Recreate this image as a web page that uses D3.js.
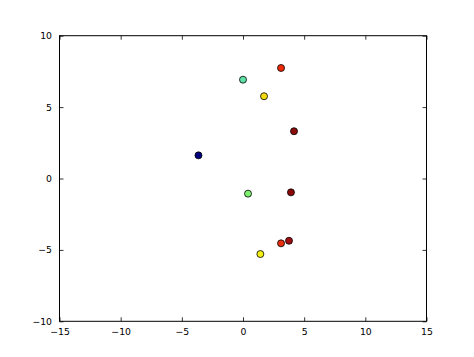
<!DOCTYPE html>
<html>
<head>
<meta charset="utf-8">
<script src="https://cdn.jsdelivr.net/npm/d3@7"></script>
<style>
  body { margin: 0; background: #fff; }
  svg { display: block; }
  .tick text { font-family: "DejaVu Sans", sans-serif; font-size: 9.3px; fill: #000; }
</style>
</head>
<body>
<div id="chart"></div>
<script>
// scatter points
var xValues = [3.11, 0.0, 1.72, 4.17, -3.64, 0.41, 3.92, 3.11, 3.76, 1.42];
var yValues = [7.74, 6.92, 5.76, 3.31, 1.62, -1.06, -0.97, -4.54, -4.36, -5.29];
var pointColors = ["#ee2a0a", "#5ee0a6", "#f2dc10", "#8c0c0c", "#00007a",
                   "#80f070", "#8a0808", "#e83010", "#a00c10", "#f4f018"];

var xTicks = [-15, -10, -5, 0, 5, 10, 15];
var yTicks = [-10, -5, 0, 5, 10];

var width = 474, height = 357;
var margin = {left: 59.5, right: 47.5, top: 35.7, bottom: 35.7};

var svg = d3.select("#chart").append("svg")
    .attr("width", width)
    .attr("height", height);

var x = d3.scaleLinear().domain([-15, 15]).range([margin.left, width - margin.right]);
var y = d3.scaleLinear().domain([-10, 10]).range([height - margin.bottom, margin.top]);

var fmt = function (d) { return d < 0 ? "\u2212" + Math.abs(d) : "" + d; };

// axes: ticks point inward, labels only on bottom and left
function styleAxis(g) {
    g.select(".domain").remove();
    g.selectAll(".tick line").attr("stroke", "#000").attr("stroke-width", 0.8);
}

svg.append("g")
    .attr("transform", "translate(0," + y(-10) + ")")
    .call(d3.axisBottom(x).tickValues(xTicks).tickFormat(fmt).tickSizeInner(-4).tickPadding(7.5))
    .call(styleAxis);

svg.append("g")
    .attr("transform", "translate(0," + y(10) + ")")
    .call(d3.axisTop(x).tickValues(xTicks).tickFormat("").tickSizeInner(-4))
    .call(styleAxis);

svg.append("g")
    .attr("transform", "translate(" + x(-15) + ",0)")
    .call(d3.axisLeft(y).tickValues(yTicks).tickFormat(fmt).tickSizeInner(-4).tickPadding(7.5))
    .call(styleAxis);

svg.append("g")
    .attr("transform", "translate(" + x(15) + ",0)")
    .call(d3.axisRight(y).tickValues(yTicks).tickFormat("").tickSizeInner(-4))
    .call(styleAxis);

// frame
svg.append("rect")
    .attr("x", x(-15))
    .attr("y", y(10))
    .attr("width", x(15) - x(-15))
    .attr("height", y(-10) - y(10))
    .attr("fill", "none")
    .attr("stroke", "#000")
    .attr("stroke-width", 1);

svg.append("g").selectAll("circle")
    .data(xValues)
    .join("circle")
    .attr("cx", function (d) { return x(d); })
    .attr("cy", function (d, i) { return y(yValues[i]); })
    .attr("r", 3.5)
    .attr("fill", function (d, i) { return pointColors[i]; })
    .attr("stroke", "#000")
    .attr("stroke-width", 0.8);
</script>
</body>
</html>
